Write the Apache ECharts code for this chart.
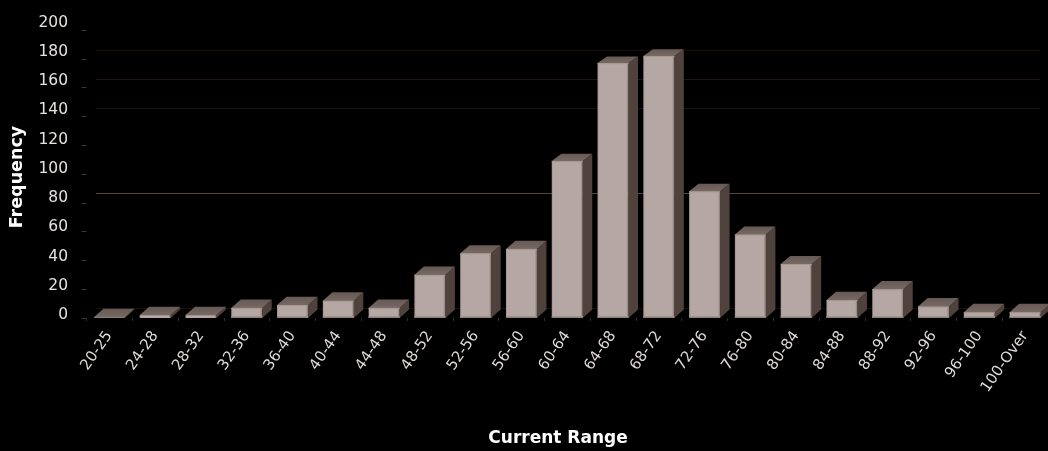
<!DOCTYPE html>
<html><head><meta charset="utf-8">
<style>html,body{margin:0;padding:0;background:#000}#c{width:1048px;height:451px}</style>
<script src="https://cdn.jsdelivr.net/npm/echarts@6/dist/echarts.min.js"></script>
</head><body><div id="c"></div>
<script>
const categories = ['20-25','24-28','28-32','32-36','36-40','40-44','44-48','48-52','52-56','56-60','60-64','64-68','68-72','72-76','76-80','80-84','84-88','88-92','92-96','96-100','100-Over'];
const frequency = [0.5,2,2,7,9,12,7,30,45,48,109,177,182,88,58,37.5,12.5,20,8,4,4];
const wallLineColors = ['#1c0f0b','#000','#000','#000','#5a443c','#000','#000','#1c1210','#201513','#1e0b08','#000'];
const FONT = '"DejaVu Sans", sans-serif';
const DX = 9.5, BAR = 31;

function renderBar(params, api) {
  const i = api.value(0), v = api.value(1);
  const top = api.coord([i, v]), base = api.coord([i, 0]);
  const l = top[0] - BAR / 2, r = l + BAR, t = top[1], b = base[1];
  const h = b - t;
  const DY = -8.5 + 2 * v / 200;
  const DB = -8.5;
  const kids = [
    {type:'polygon', shape:{points:[[r,t],[r+DX,t+DY],[r+DX,b+DB],[r,b]]}, style:{fill:'#4f413c'}},
    {type:'polygon', shape:{points:[[l,t],[l+DX,t+DY],[r+DX,t+DY],[r,t]]},
      style:{fill:new echarts.graphic.LinearGradient(0,0,0,1,[{offset:0,color:'#675a55'},{offset:1,color:'#766964'}])}},
    {type:'rect', shape:{x:l,y:t,width:BAR,height:h},
      style:{fill:new echarts.graphic.LinearGradient(0,0,1,0,[
        {offset:0,color:'#a0938f'},{offset:0.05,color:'#b4a7a4'},{offset:0.93,color:'#b4a7a4'},{offset:1,color:'#85786f'}])}}
  ];
  if (h > 3) {
    kids.push({type:'rect', shape:{x:l,y:b-2,width:BAR,height:2},
      style:{fill:new echarts.graphic.LinearGradient(0,0,0,1,[{offset:0,color:'#a89b97'},{offset:1,color:'#857874'}])}});
    kids.push({type:'rect', shape:{x:l,y:t,width:BAR,height:1}, style:{fill:'#a5988f'}});
  }
  return {type:'group', children:kids};
}

const chart = echarts.init(document.getElementById('c'), null, {renderer:'canvas'});
chart.setOption({
  backgroundColor:'#000',
  animation:false,
  grid:[
    {left:86.5, top:30, width:963.9, height:288},
    {left:96, top:22, width:944, height:286},
    {left:74, top:22.5, width:10, height:292.5}
  ],
  xAxis:[
    {gridIndex:0, type:'category', data:categories, boundaryGap:true,
      axisLine:{show:false},
      axisTick:{show:true,length:3,lineStyle:{color:'#3a2a25'}},
      axisLabel:{interval:0,rotate:55,color:'#dedad8',fontFamily:FONT,fontSize:15,margin:15}},
    {gridIndex:1, type:'value', show:false},
    {gridIndex:2, type:'value', show:false}
  ],
  yAxis:[
    {gridIndex:0, type:'value', min:0, max:200, interval:20,
      axisLine:{show:false}, splitLine:{show:false}, axisLabel:{show:false},
      axisTick:{show:true,length:5,lineStyle:{color:'#4a3228'}}},
    {gridIndex:1, type:'value', min:0, max:200, interval:20,
      axisLine:{show:false}, axisTick:{show:false}, axisLabel:{show:false},
      splitLine:{show:true,lineStyle:{width:1,color:wallLineColors}}},
    {gridIndex:2, type:'value', min:0, max:200, interval:20,
      axisLine:{show:false}, axisTick:{show:false}, splitLine:{show:false},
      axisLabel:{color:'#e6e2e0',fontFamily:FONT,fontSize:15.5,margin:6}}
  ],
  graphic:[
    {type:'text', x:558, y:439, style:{text:'Current Range',fill:'#fff',font:'bold 17px '+FONT,textAlign:'center',textVerticalAlign:'middle'}},
    {type:'text', x:17, y:177, rotation:Math.PI/2, style:{text:'Frequency',fill:'#fff',font:'bold 17.5px '+FONT,textAlign:'center',textVerticalAlign:'middle'}}
  ],
  series:[{
    type:'custom', xAxisIndex:0, yAxisIndex:0, z:5, clip:false,
    data:frequency.map((v,i)=>[i,v]),
    encode:{x:0,y:1},
    renderItem:renderBar
  }]
});
</script></body></html>
